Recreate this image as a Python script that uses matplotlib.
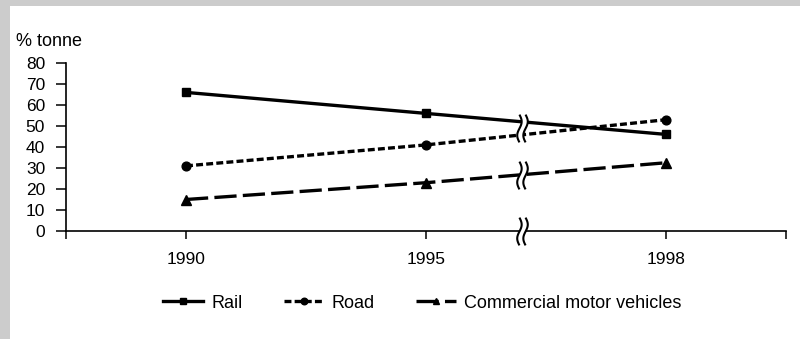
import numpy as np
import matplotlib.pyplot as plt
from matplotlib.path import Path
from matplotlib.patches import Rectangle

plt.rcParams['font.family'] = ['Liberation Sans', 'DejaVu Sans']
plt.rcParams['lines.scale_dashes'] = False

# data
years = ['1990', '1995', '1998']
rail = [66, 56, 46]
road = [31, 41, 53]
cmv = [15, 23, 32.5]
y_ticks = [0, 10, 20, 30, 40, 50, 60, 70, 80]
break_pos = 1.4  # where the time axis is broken (between 1995 and 1998)


def wave_paths():
    # two vertical S-shaped strokes, plus the white area between them
    t = np.linspace(0, 1, 30)
    yy = 0.5 - t
    amp, gap = 0.08, 0.11
    left = np.column_stack([-gap + amp * np.sin(2 * np.pi * t), yy])
    right = np.column_stack([gap + amp * np.sin(2 * np.pi * t), yy])
    verts = np.vstack([left, right])
    codes = ([Path.MOVETO] + [Path.LINETO] * (len(t) - 1)) * 2
    strokes = Path(verts, codes)
    fill_verts = np.vstack([left, right[::-1], left[:1]])
    fill = Path(fill_verts, [Path.MOVETO] + [Path.LINETO] * (len(fill_verts) - 2) + [Path.CLOSEPOLY])
    return strokes, fill


fig = plt.figure(figsize=(8, 3.39), dpi=100)
fig.patches.append(Rectangle((0, 0), 10 / 800, 1, transform=fig.transFigure,
                             facecolor='#cccccc', edgecolor='none', zorder=-5))
fig.patches.append(Rectangle((0, 1 - 6 / 339), 1, 6 / 339, transform=fig.transFigure,
                             facecolor='#cccccc', edgecolor='none', zorder=-5))

ax = fig.add_axes([66 / 800, 108 / 339, 720 / 800, 168 / 339])
x = np.arange(len(years))

ax.plot(x, rail, color='black', lw=2.4, marker='s', ms=5.5, label='Rail')
ax.plot(x, road, color='black', lw=2.4, ls=(0, (5, 2.3)), marker='o', ms=6.3, label='Road')
ax.plot(x, cmv, color='black', lw=2.4, ls=(0, (16, 4.5)), marker='^', ms=6.5,
        label='Commercial motor vehicles')

# axis break marks
strokes, fill = wave_paths()
y_rail = np.interp(break_pos, x, rail)
y_road = np.interp(break_pos, x, road)
y_cmv = np.interp(break_pos, x, cmv)
for yb in [(y_rail + y_road) / 2, y_cmv, 0]:
    ax.plot([break_pos], [yb], marker=fill, ms=20, mfc='white', mec='white', mew=0,
            ls='none', clip_on=False, zorder=5)
    ax.plot([break_pos], [yb], marker=strokes, ms=20, mfc='none', mec='black', mew=1.5,
            ls='none', clip_on=False, zorder=6)

ax.set_xlim(-0.5, 2.5)
ax.set_ylim(0, 80)
ax.set_xticks([-0.5, 0, 1, 2, 2.5])
ax.set_xticklabels([''] + years + [''])
ax.set_yticks(y_ticks)
ax.tick_params(axis='x', direction='out', length=6, width=1.1, pad=9, labelsize=12.5)
ax.tick_params(axis='y', direction='out', length=7, width=1.1, pad=8, labelsize=12.5)
for side in ['top', 'right']:
    ax.spines[side].set_visible(False)
for side in ['left', 'bottom']:
    ax.spines[side].set_linewidth(1.2)

fig.text(16 / 800, 1 - 42 / 339, '% tonne', fontsize=13, va='center', ha='left')

ax.legend(loc='center', bbox_to_anchor=(0.495, -0.43), ncol=3, frameon=False,
          fontsize=13, handlelength=2.2, handletextpad=0.45, columnspacing=2.3,
          markerscale=0.75)

fig.savefig('out.png', dpi=100)
